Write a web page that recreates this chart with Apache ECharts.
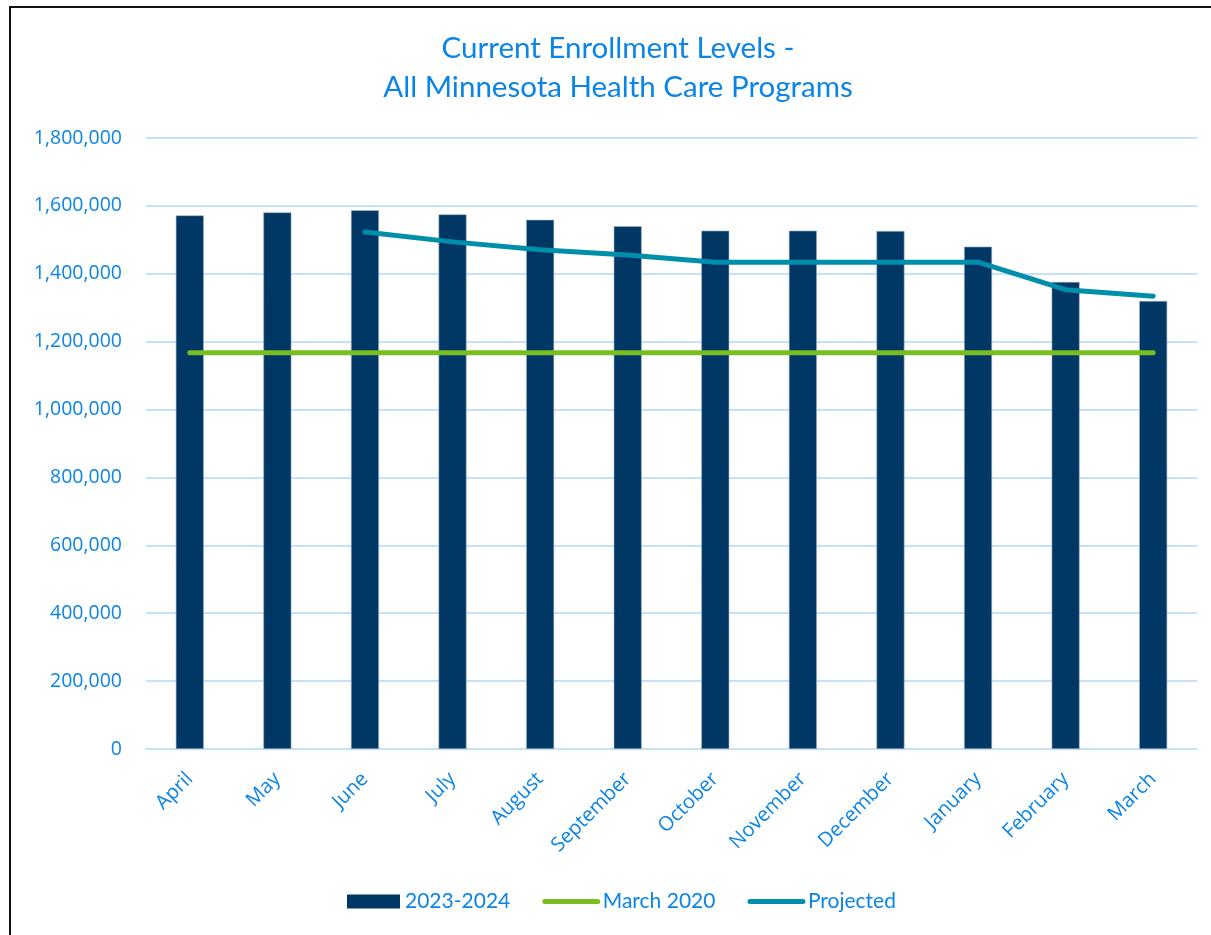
<!DOCTYPE html>
<html>
<head>
<meta charset="utf-8">
<script src="https://cdn.jsdelivr.net/npm/echarts@6/dist/echarts.min.js"></script>
<style>
  html, body { margin: 0; padding: 0; background: #ffffff; }
  #frame { position: absolute; left: 9px; top: 6px; width: 1211px; height: 935px; border: 2px solid #111; box-sizing: border-box; }
  #chart { position: absolute; left: 0; top: 0; width: 1211px; height: 935px; }
</style>
</head>
<body>
<div id="frame"></div>
<div id="chart"></div>
<script>
// Monthly enrollment, all Minnesota Health Care Programs
const months = ['April', 'May', 'June', 'July', 'August', 'September', 'October',
                'November', 'December', 'January', 'February', 'March'];
const enrollment = [1572000, 1581000, 1587000, 1575000, 1559000, 1540000, 1527000,
                    1527000, 1526000, 1480000, 1376000, 1320000];
const march2020 = [1167000, 1167000, 1167000, 1167000, 1167000, 1167000, 1167000,
                   1167000, 1167000, 1167000, 1167000, 1167000];
const projected = [null, null, 1523000, 1494000, 1471000, 1455000, 1434000,
                   1434000, 1434000, 1434000, 1353000, 1334000];
const yTicks = { min: 0, max: 1800000, interval: 200000 };

const textBlue = '#0B84E8';
const titleFont = 'Lato, "Open Sans", sans-serif';
const axisFont = '"Open Sans", "Noto Sans", sans-serif';
const green = '#78BE21';
const teal = '#008FAB';
const navy = '#003764';

const chart = echarts.init(document.getElementById('chart'));
chart.setOption({
  animation: false,
  textStyle: { fontFamily: axisFont, color: textBlue },
  title: {
    text: 'Current Enrollment Levels -\nAll Minnesota Health Care Programs',
    left: 613,
    top: 24,
    textAlign: 'center',
    textStyle: { color: textBlue, fontSize: 29.5, fontWeight: 'normal', lineHeight: 39, fontFamily: titleFont }
  },
  grid: { left: 146, right: 14, top: 138, bottom: 186 },
  legend: {
    bottom: 18,
    left: 342,
    itemGap: 32,
    itemWidth: 53,
    itemHeight: 14,
    textStyle: { color: textBlue, fontSize: 21, fontFamily: titleFont },
    data: [
      { name: '2023-2024', icon: 'rect', itemStyle: { color: navy, borderWidth: 0 } },
      { name: 'March 2020', itemStyle: { opacity: 0 }, lineStyle: { width: 5, cap: 'round', color: green } },
      { name: 'Projected', itemStyle: { opacity: 0 }, lineStyle: { width: 5, cap: 'round', color: teal } }
    ]
  },
  xAxis: {
    type: 'category',
    data: months,
    axisLine: { lineStyle: { color: '#C5E2FA', width: 2 } },
    axisTick: { show: false },
    axisLabel: { rotate: 45, color: textBlue, fontSize: 20, margin: 27, fontFamily: axisFont }
  },
  yAxis: {
    type: 'value',
    min: yTicks.min,
    max: yTicks.max,
    interval: yTicks.interval,
    axisLine: { show: false },
    axisTick: { show: false },
    splitLine: { lineStyle: { color: '#C5E2FA', width: 2 } },
    axisLabel: {
      color: textBlue, fontSize: 19.5, margin: 24, fontFamily: axisFont,
      formatter: v => v.toLocaleString('en-US')
    }
  },
  series: [
    {
      name: '2023-2024',
      type: 'bar',
      data: enrollment,
      barWidth: 28,
      itemStyle: { color: navy, borderColor: '#9DB3C8', borderWidth: 0.6 }
    },
    {
      name: 'March 2020',
      type: 'line',
      data: march2020,
      symbol: 'none',
      lineStyle: { color: green, width: 5, cap: 'round' },
      itemStyle: { color: green }
    },
    {
      name: 'Projected',
      type: 'line',
      data: projected,
      symbol: 'none',
      lineStyle: { color: teal, width: 5, cap: 'round', join: 'round' },
      itemStyle: { color: teal }
    }
  ]
});
</script>
</body>
</html>
